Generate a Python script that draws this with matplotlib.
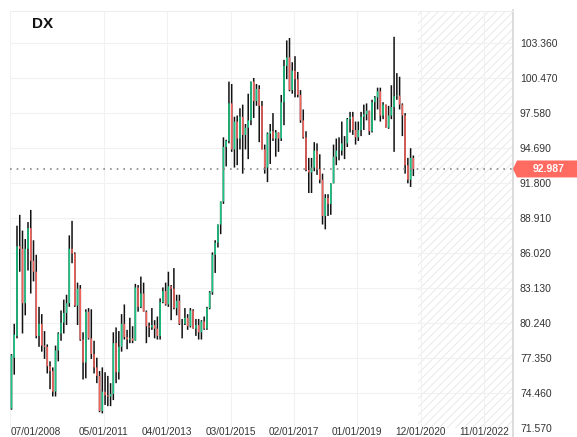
import matplotlib
matplotlib.use('Agg')
import matplotlib.pyplot as plt
import numpy as np
import pandas as pd
from matplotlib.patches import Polygon
from matplotlib.transforms import blended_transform_factory

plt.rcParams['font.family'] = 'Liberation Sans'
plt.rcParams['hatch.linewidth'] = 0.6

symbol = 'DX'
last_price = 92.987

# monthly candles, Aug 2008 .. Oct 2020
months = pd.period_range('2008-08', '2020-10', freq='M')
opens = [73.2, 77.4, 79.2, 86.6, 86.4, 81.9, 86.4, 88.1, 85.4, 84.5,
         79.2, 80.2, 78.4, 78.3, 76.7, 76.3, 74.6, 78.0, 79.4, 80.3,
         81.1, 81.9, 86.4, 86.0, 81.7, 83.1, 78.9, 77.0, 81.2, 79.0,
         77.7, 76.6, 75.9, 73.0, 74.6, 74.3, 74.2, 74.4, 78.6, 76.2,
         78.3, 80.2, 79.1, 78.9, 79.0, 78.8, 83.2, 81.6, 82.7, 81.2,
         80.0, 79.9, 80.1, 79.8, 79.2, 82.0, 82.9, 81.8, 83.3, 83.1,
         81.5, 82.1, 80.2, 80.2, 80.7, 80.0, 81.3, 79.8, 80.1, 79.5,
         80.4, 79.8, 81.5, 82.8, 85.9, 86.9, 88.4, 90.3, 94.8, 95.3,
         98.4, 94.6, 96.9, 95.5, 97.3, 95.8, 96.4, 97.0, 100.2, 98.6,
         99.6, 98.2, 94.6, 93.1, 95.9, 96.1, 95.5, 96.0, 95.5, 98.5,
         101.5, 102.2, 99.5, 101.1, 100.4, 99.1, 97.0, 95.6, 92.9, 92.7,
         93.1, 94.5, 93.0, 92.1, 89.1, 90.6, 90.1, 91.8, 94.0, 94.5,
         94.5, 95.1, 95.1, 97.1, 97.3, 96.2, 95.6, 96.2, 97.3, 97.5,
         97.8, 96.1, 98.5, 98.9, 99.4, 97.4, 98.3, 96.4, 97.4, 98.1,
         99.0, 99.05, 98.3, 97.4, 93.3, 92.1, 93.9]
highs = [77.7, 80.2, 88.3, 89.2, 87.9, 87.2, 88.6, 89.6, 87.1, 85.9,
         81.6, 81.0, 79.6, 78.5, 77.1, 76.6, 78.4, 79.5, 81.3, 82.2,
         82.6, 87.5, 88.7, 86.1, 83.6, 83.4, 79.5, 81.4, 81.5, 81.4,
         78.8, 77.4, 76.3, 76.6, 76.2, 75.9, 75.3, 79.5, 79.9, 79.6,
         81.0, 81.8, 79.7, 80.7, 80.0, 83.5, 83.4, 84.1, 83.6, 81.3,
         80.3, 81.5, 80.5, 80.8, 82.3, 83.2, 83.6, 84.5, 83.4, 84.8,
         82.6, 82.6, 80.6, 81.5, 81.0, 81.5, 81.4, 80.6, 80.6, 80.5,
         80.8, 81.6, 82.9, 86.1, 87.1, 88.4, 90.3, 95.6, 95.4, 100.2,
         100.0, 97.3, 97.4, 98.0, 98.3, 96.7, 99.2, 100.2, 100.5, 100.0,
         99.9, 98.6, 95.0, 96.0, 96.7, 97.6, 96.2, 96.0, 99.1, 102.0,
         103.6, 103.8, 101.8, 102.3, 101.0, 99.5, 97.9, 96.1, 93.9, 93.9,
         95.2, 95.1, 94.2, 92.6, 90.9, 90.9, 91.8, 95.0, 95.5, 95.6,
         96.9, 95.7, 97.2, 97.7, 97.7, 96.9, 96.9, 97.7, 98.3, 98.4,
         97.8, 98.7, 99.0, 99.7, 99.7, 98.5, 98.3, 98.2, 99.9, 103.9,
         100.9, 100.6, 98.4, 97.6, 93.9, 94.7, 94.1]
lows = [73.1, 76.0, 79.0, 84.5, 79.4, 80.9, 84.6, 82.7, 83.7, 79.0,
        78.3, 77.9, 77.3, 76.1, 74.8, 74.2, 74.2, 77.1, 78.8, 79.4,
        80.1, 81.6, 85.2, 81.6, 80.1, 78.8, 75.6, 75.7, 78.9, 77.3,
        76.1, 75.3, 72.9, 72.8, 73.5, 73.4, 73.4, 73.9, 75.3, 75.6,
        77.9, 78.9, 78.1, 78.6, 78.6, 78.8, 81.2, 81.5, 81.2, 78.6,
        79.1, 79.7, 79.0, 78.9, 78.9, 81.9, 81.7, 81.6, 80.5, 81.4,
        80.9, 80.1, 79.0, 80.1, 79.7, 79.9, 79.8, 79.2, 78.9, 78.9,
        79.7, 79.7, 81.4, 82.6, 84.4, 86.5, 87.6, 90.1, 93.2, 95.1,
        94.4, 93.1, 93.3, 94.6, 92.6, 94.6, 93.8, 96.6, 97.2, 98.2,
        95.2, 94.6, 92.6, 91.9, 93.4, 95.3, 94.0, 94.4, 95.3, 96.6,
        100.4, 99.4, 99.2, 98.9, 98.9, 96.8, 95.5, 92.8, 91.0, 91.0,
        92.8, 92.5, 91.8, 88.4, 88.0, 89.1, 89.2, 91.8, 93.3, 93.7,
        94.1, 93.8, 94.8, 96.0, 95.8, 95.0, 95.3, 95.7, 96.2, 97.0,
        95.8, 96.0, 97.0, 97.9, 96.9, 97.1, 96.4, 96.3, 97.1, 94.4,
        98.7, 97.9, 95.7, 92.6, 91.8, 91.5, 92.4]
closes = [77.6, 79.3, 86.6, 86.4, 81.9, 86.4, 88.1, 85.4, 84.5, 79.2,
          80.2, 78.4, 78.3, 76.7, 76.3, 74.6, 78.0, 79.4, 80.3, 81.1,
          81.9, 86.4, 86.0, 81.7, 83.1, 78.9, 77.0, 81.2, 79.0, 77.7,
          76.6, 75.9, 73.0, 74.6, 74.3, 74.2, 74.4, 78.6, 76.2, 78.3,
          80.2, 79.1, 78.9, 79.0, 78.8, 83.2, 81.6, 82.7, 81.2, 80.0,
          79.9, 80.1, 79.8, 79.2, 82.0, 82.9, 81.8, 83.3, 83.1, 81.5,
          82.1, 80.2, 80.2, 80.7, 80.0, 81.3, 79.8, 80.1, 79.5, 80.4,
          79.8, 81.5, 82.8, 85.9, 86.9, 88.4, 90.3, 94.8, 95.3, 98.4,
          94.6, 96.9, 95.5, 97.3, 95.8, 96.4, 97.0, 100.2, 98.6, 99.6,
          98.2, 94.6, 93.1, 95.9, 96.1, 95.5, 96.0, 95.5, 98.5, 101.5,
          102.2, 99.5, 101.1, 100.4, 99.1, 97.0, 95.6, 92.9, 92.7, 93.1,
          94.5, 93.0, 92.1, 89.1, 90.6, 90.1, 91.8, 94.0, 94.5, 94.5,
          95.1, 95.1, 97.1, 97.3, 96.2, 95.6, 96.2, 97.3, 97.5, 97.8,
          96.1, 98.5, 98.9, 99.4, 97.4, 98.3, 96.4, 97.4, 98.1, 99.0,
          99.05, 98.3, 97.4, 93.3, 92.1, 93.9, 92.987]

tick_dates = ['2008-07', '2011-05', '2013-04', '2015-03', '2017-02', '2019-01', '2020-12', '2022-11']
tick_labels = ['07/01/2008', '05/01/2011', '04/01/2013', '03/01/2015',
               '02/01/2017', '01/01/2019', '12/01/2020', '11/01/2022']
y_ticks = [71.57, 74.46, 77.35, 80.24, 83.13, 86.02, 88.91, 91.80, 94.69, 97.58, 100.47, 103.36]

start = pd.Period('2008-07', freq='M')
x = np.array([(m - start).n for m in months]) - 0.6
o, h, l, c = map(np.array, (opens, highs, lows, closes))
up = c >= o
tick_pos = [(pd.Period(d, freq='M') - start).n for d in tick_dates]

fig = plt.figure(figsize=(5.77, 4.37), dpi=100)
ax = fig.add_axes([0.018, 0.0199, 0.8711, 0.9549])
x_max = 182.6
ax.set_xlim(0, x_max)
ax.set_ylim(71.57, 106.03)

# future zone
ax.axvspan(x[-1] + 1.7, x_max, facecolor='none', edgecolor='#e6e6e6', hatch='////', lw=0, zorder=0)

ax.vlines(x, l, h, color='#111111', lw=1.1, snap=False, zorder=3)
ax.vlines(x[up], o[up], c[up], color='#17c884', lw=1.1, snap=False, zorder=4)
ax.vlines(x[~up], c[~up], o[~up], color='#f4605a', lw=1.1, snap=False, zorder=4)

ax.axhline(last_price, color='#888888', lw=1.2, linestyle=(0, (1, 3)), zorder=5)

ax.set_axisbelow(True)
ax.grid(color='#f1f1f1', lw=0.8)
ax.yaxis.tick_right()
ax.set_yticks(y_ticks, [f'{v:.3f}' for v in y_ticks])
ax.set_xticks(tick_pos, tick_labels)
ax.tick_params(axis='y', length=0, pad=5, labelsize=7.5, colors='#333333')
ax.tick_params(axis='x', length=0, pad=-1.2, labelsize=7.2, colors='#333333')
ax.get_xticklabels()[0].set_horizontalalignment('left')

for s in ['left', 'bottom', 'right']:
    ax.spines[s].set_visible(False)
ax.spines['top'].set_color('#eeeeee')
ax.spines['top'].set_linewidth(0.8)
ax.plot([1, 1], [-0.03, 1.002], transform=ax.transAxes, color='#d5d5d5', lw=1.2, clip_on=False)

# last price tag
tr = blended_transform_factory(fig.transFigure, ax.transData)
half = 0.70
tag = Polygon([(0.889, last_price), (0.896, last_price + half), (1.0, last_price + half),
               (1.0, last_price - half), (0.896, last_price - half)],
              closed=True, transform=tr, facecolor='#ff6a61', edgecolor='none', clip_on=False)
fig.patches.append(tag)
fig.text(0.950, last_price, f'{last_price:.3f}', transform=tr, ha='center', va='center',
         color='white', fontsize=7.5, fontweight='bold')

fig.text(0.055, 0.9366, symbol, fontsize=11, fontweight='bold', color='#111111', va='baseline')

fig.savefig('out.png', dpi=100)
